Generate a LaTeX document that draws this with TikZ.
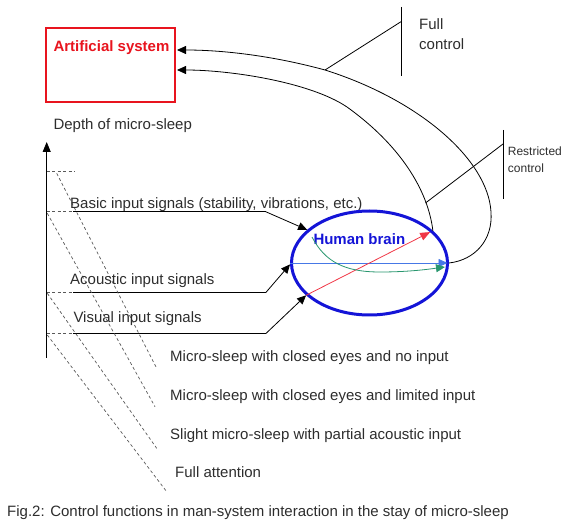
\documentclass[tikz,border=0pt]{standalone}
\usepackage{fontspec}
\setmainfont{Liberation Sans}
\usetikzlibrary{arrows.meta,shapes.geometric}
\definecolor{boxred}{RGB}{232,20,30}
\definecolor{brainblue}{RGB}{20,20,215}
\definecolor{arrred}{RGB}{240,55,70}
\definecolor{arrblue}{RGB}{70,120,230}
\definecolor{arrgreen}{RGB}{40,150,110}
\definecolor{textgray}{RGB}{45,45,45}
\begin{document}
\begin{tikzpicture}[x=1pt,y=-1pt,
  txt/.style={anchor=base west,inner sep=0pt,font=\fontsize{15}{18}\selectfont,text=textgray},
  smalltxt/.style={txt,font=\fontsize{12}{14}\selectfont},
  boldtxt/.style={txt,font=\bfseries\fontsize{15}{18}\selectfont},
  conn/.style={draw=black,line width=0.8pt},
  tipblk/.style={-{Triangle[length=9pt,width=8pt]}},
  dashln/.style={draw=black!65,line width=0.7pt,dash pattern=on 3pt off 2.5pt},
]
\useasboundingbox (0,0) rectangle (570,526);

% Artificial system box
\node[draw=boxred,line width=2.5pt,minimum width=129pt,minimum height=74pt,inner sep=0pt] (sys) at (110.3,65) {};
\node[boldtxt,text=boxred] (systxt) at (53.3,52) {Artificial system};
\node[txt] (depth) at (53.3,130) {Depth of micro-sleep};

% axis
\coordinate (axb) at (46.7,358);
\coordinate (axt) at (46.7,142);
\draw[conn,-{Triangle[length=10pt,width=8pt]}] (axb) -- (axt);

% levels
\coordinate (l0) at (46.7,171.7);
\coordinate (l1) at (46.7,211.7);
\coordinate (l2) at (46.7,292.7);
\coordinate (l3) at (46.7,333.7);
\coordinate (h0) at (75,171.7);
\coordinate (h1) at (73,211.7);
\coordinate (h2) at (73,292.7);
\coordinate (h3) at (73,333.7);
\coordinate (k1) at (265.7,211.7);
\coordinate (k2) at (265.7,292.7);
\coordinate (k3) at (265.7,333.7);
\draw[dashln] (l0) -- (h0);
\draw[dashln] (l1) -- (h1);
\draw[dashln] (l2) -- (h2);
\draw[dashln] (l3) -- (h3);
\draw[conn] (h1) -- (k1);
\draw[conn] (h2) -- (k2);
\draw[conn] (h3) -- (k3);

% dashed diagonals
\coordinate (d1s) at (56.7,173.3);
\coordinate (d1e) at (156.7,368.3);
\coordinate (d2s) at (47.3,213.3);
\coordinate (d2e) at (155,406.7);
\coordinate (d3s) at (47.3,293.3);
\coordinate (d3e) at (156.7,448.3);
\coordinate (d4s) at (47.3,335);
\coordinate (d4e) at (166.7,491.7);
\draw[dashln] (d1s) -- (d1e);
\draw[dashln] (d2s) -- (d2e);
\draw[dashln] (d3s) -- (d3e);
\draw[dashln] (d4s) -- (d4e);

% labels
\node[txt] (basic) at (70,208.3) {Basic input signals (stability, vibrations, etc.)};
\node[txt] (acoustic) at (70,285) {Acoustic input signals};
\node[txt] (visual) at (73.3,322.7) {Visual input signals};
\node[txt] (ms1) at (170,361.7) {Micro-sleep with closed eyes and no input};
\node[txt] (ms2) at (170,400.7) {Micro-sleep with closed eyes and limited input};
\node[txt] (ms3) at (170,439.3) {Slight micro-sleep with partial acoustic input};
\node[txt] (ms4) at (175,477.7) {Full attention};
\node[txt] (caption) at (7,516) {Fig.2: Control functions in man-system interaction in the stay of micro-sleep};

% Human brain
\node[ellipse,draw=brainblue,line width=3pt,minimum width=156pt,minimum height=104pt,inner sep=0pt] (brain) at (369.5,263) {};
\node[boldtxt,text=brainblue] (braintxt) at (313.3,245) {Human brain};

% input arrows
\draw[conn,tipblk] (k1) -- (brain.152);
\draw[conn,tipblk] (k2) -- (brain.181);
\draw[conn,tipblk] (k3) -- (brain.207);

% internal arrows
\draw[draw=arrblue,line width=0.8pt,-{Triangle[length=9pt,width=8pt]},shorten >=1.5pt] (brain.180) -- (brain.0);
\draw[draw=arrred,line width=0.8pt,-{Triangle[length=10pt,width=8pt]},shorten >=3pt] (brain.207) -- (brain.27);
\coordinate (g0) at (312,237);
\coordinate (g1) at (445,267);
\draw[draw=arrgreen,line width=0.8pt,-{Triangle[length=9pt,width=8pt]}] (g0) .. controls (325,262) and (345,272) .. (380,272) .. controls (410,272) and (430,269) .. (g1);

% control curves
\coordinate (a1) at (177,50);
\coordinate (a2) at (177,70);
\coordinate (fc) at (325,70);
\coordinate (rc) at (425.5,203);
\draw[conn,tipblk] (brain.0) .. controls (475,260) and (493,240) .. (491,212) .. controls (488,160) and (420,100) .. (fc) .. controls (270,55) and (220,50) .. (a1);
\draw[conn,tipblk] (brain.27) .. controls (428,190) and (400,145) .. (347,107) .. controls (310,82) and (230,70) .. (a2);

% Full control callout
\coordinate (fcv) at (401,21.7);
\coordinate (fct) at (401,7);
\coordinate (fcb) at (401,76);
\draw[conn] (fc) -- (fcv);
\draw[conn] (fct) -- (fcb);
\node[txt] (full1) at (419,30) {Full};
\node[txt] (full2) at (419,50) {control};

% Restricted control callout
\coordinate (rcv) at (503,144);
\coordinate (rct) at (503,130);
\coordinate (rcb) at (503,199);
\draw[conn] (rc) -- (rcv);
\draw[conn] (rct) -- (rcb);
\node[smalltxt] (res1) at (507.7,156) {Restricted};
\node[smalltxt] (res2) at (507.7,172.7) {control};
\end{tikzpicture}
\end{document}
